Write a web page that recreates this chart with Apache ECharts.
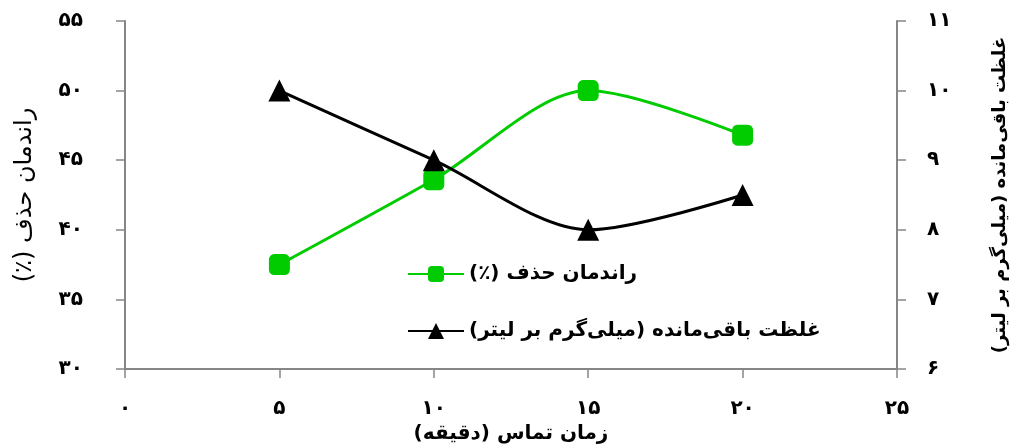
<!DOCTYPE html>
<html>
<head>
<meta charset="utf-8">
<script src="https://cdn.jsdelivr.net/npm/echarts@6/dist/echarts.min.js"></script>
<style>
    html, body { margin: 0; padding: 0; background: #fff; }
    #chart { width: 1010px; height: 448px; }
</style>
</head>
<body>
<div id="chart"></div>
<script>
    // x: contact time (minutes)
    const times = [5, 10, 15, 20];
    // removal efficiency (%) - left axis
    const removal = [37.5, 43.6, 50, 46.8];
    // residual concentration (mg/L) - right axis
    const residual = [10, 9, 8, 8.5];

    const xTickLabels = ['۰', '۵', '۱۰', '۱۵', '۲۰', '۲۵'];
    const leftTickLabels = ['۳۰', '۳۵', '۴۰', '۴۵', '۵۰', '۵۵'];
    const rightTickLabels = ['۶', '۷', '۸', '۹', '۱۰', '۱۱'];

    const RLM = '\u200F';
    const nameRemoval = RLM + 'راندمان حذف (٪)' + RLM;
    const nameResidual = RLM + 'غلظت باقی‌مانده (میلی‌گرم بر لیتر)' + RLM;
    const nameTime = RLM + 'زمان تماس (دقیقه)' + RLM;

    const FONT = 'DejaVu Sans';
    const axisGrey = '#868686';

    const chart = echarts.init(document.getElementById('chart'), null, { renderer: 'canvas' });

    const labelStyle = { color: '#000', fontFamily: FONT, fontWeight: 'bold', fontSize: 20 };

    chart.setOption({
        animation: false,
        grid: { left: 125, right: 113, top: 21, bottom: 79, outerBoundsMode: 'none', containLabel: false },
        legend: {
            orient: 'vertical',
            left: 402,
            top: 259,
            itemWidth: 56,
            itemHeight: 20,
            itemGap: 37,
            textStyle: { color: '#000', fontFamily: FONT, fontWeight: 'bold', fontSize: 20 },
            data: [nameRemoval, nameResidual]
        },
        xAxis: {
            type: 'value',
            min: 0,
            max: 25,
            interval: 5,
            name: nameTime,
            nameLocation: 'middle',
            nameGap: 51,
            nameTextStyle: { color: '#000', fontFamily: FONT, fontWeight: 'bold', fontSize: 20 },
            axisLine: { lineStyle: { color: axisGrey, width: 2 } },
            axisTick: { length: 9, lineStyle: { color: axisGrey, width: 1.5 } },
            axisLabel: Object.assign({ margin: 30, formatter: (v, i) => xTickLabels[i] }, labelStyle),
            splitLine: { show: false }
        },
        yAxis: [
            {
                type: 'value',
                min: 30,
                max: 55,
                interval: 5,
                position: 'left',
                name: nameRemoval,
                nameLocation: 'middle',
                nameRotate: 90,
                nameGap: 88,
                nameTextStyle: { color: '#000', fontFamily: FONT, fontSize: 24 },
                axisLine: { show: true, lineStyle: { color: axisGrey, width: 2 } },
                axisTick: { show: true, length: 9, lineStyle: { color: axisGrey, width: 1.5 } },
                axisLabel: Object.assign({ margin: 42, formatter: (v, i) => leftTickLabels[i] }, labelStyle),
                splitLine: { show: false }
            },
            {
                type: 'value',
                min: 6,
                max: 11,
                interval: 1,
                position: 'right',
                name: nameResidual,
                nameLocation: 'middle',
                nameRotate: 90,
                nameGap: 94,
                nameTextStyle: { color: '#000', fontFamily: FONT, fontWeight: 'bold', fontSize: 18 },
                axisLine: { show: true, lineStyle: { color: axisGrey, width: 2 } },
                axisTick: { show: true, length: 9, lineStyle: { color: axisGrey, width: 1.5 } },
                axisLabel: Object.assign({ margin: 30, formatter: (v, i) => rightTickLabels[i] }, labelStyle),
                splitLine: { show: false }
            }
        ],
        series: [
            {
                name: nameRemoval,
                type: 'line',
                yAxisIndex: 0,
                smooth: 0.3,
                symbol: 'roundRect',
                symbolSize: 21,
                color: '#00CC00',
                lineStyle: { color: '#00CC00', width: 3 },
                itemStyle: { color: '#00CC00' },
                data: times.map((t, i) => [t, removal[i]])
            },
            {
                name: nameResidual,
                type: 'line',
                yAxisIndex: 1,
                smooth: 0.3,
                symbol: 'triangle',
                symbolSize: 22,
                color: '#000',
                lineStyle: { color: '#000', width: 3 },
                itemStyle: { color: '#000' },
                data: times.map((t, i) => [t, residual[i]])
            }
        ]
    });
</script>
</body>
</html>
